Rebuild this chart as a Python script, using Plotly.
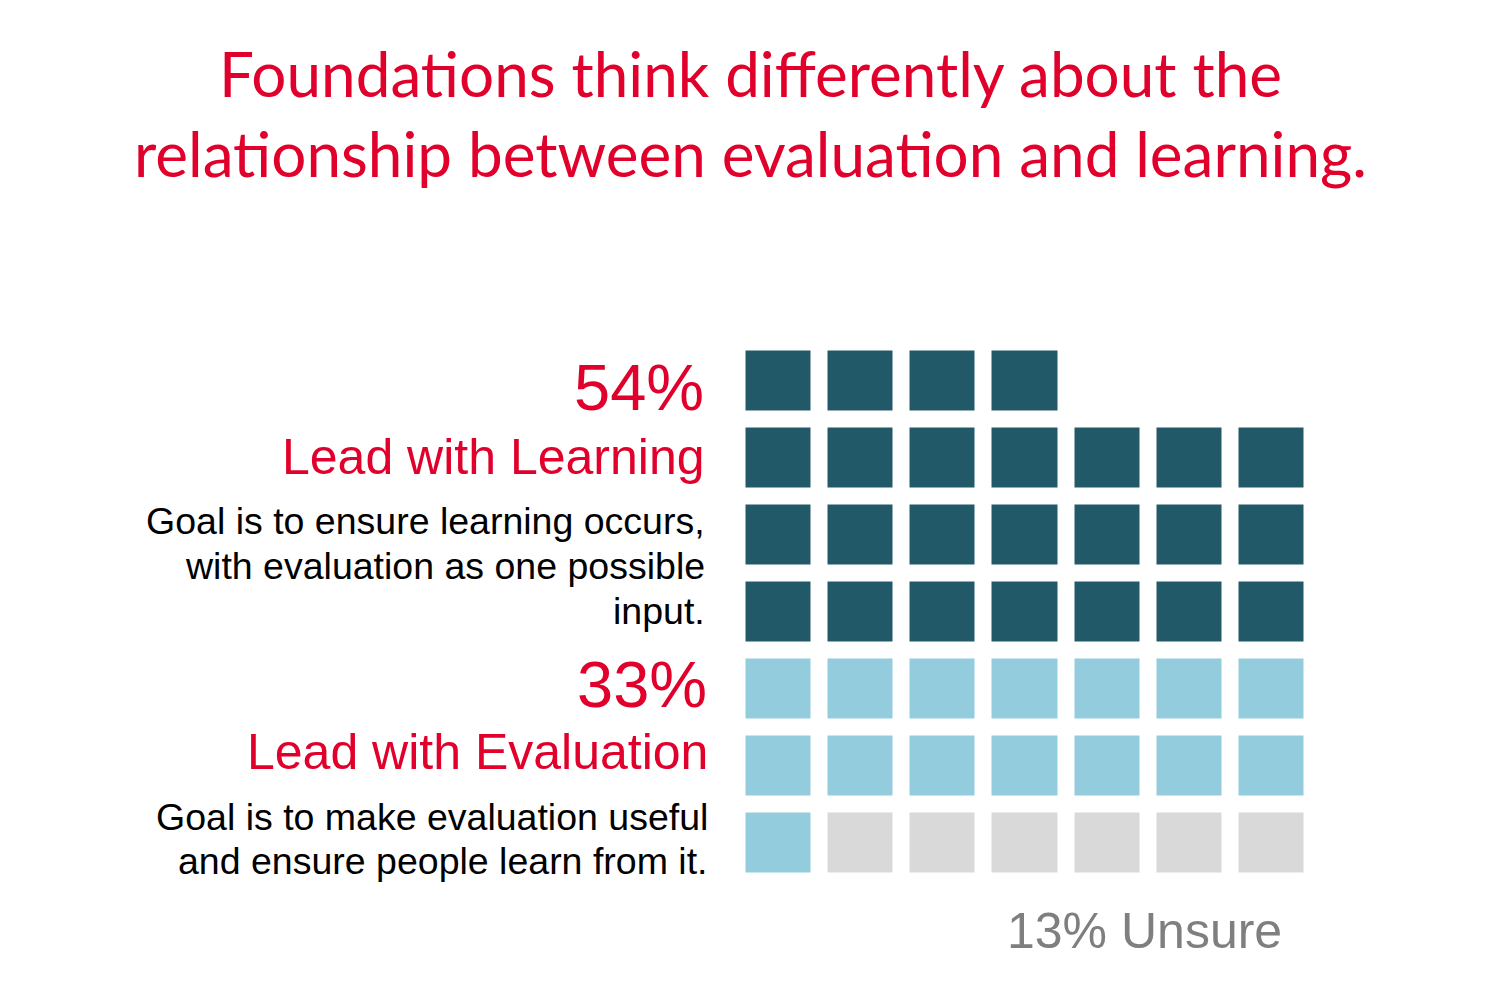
import plotly.graph_objects as go

# page body has an 8px margin, so the figure is shrunk by that much
OFF = 8
W, H = 1500 - OFF, 987 - OFF

RED = "#E0002B"
COLORS = ["#215968", "#93CDDD", "#D9D9D9"]

title_lines = [
    "Foundations think differently about the",
    "relationship between evaluation and learning.",
]
groups = ["Lead with Learning", "Lead with Evaluation", "Unsure"]
percents = [54, 33, 13]
squares = [25, 15, 6]  # squares drawn per group
n_cols = 7

descriptions = [
    ["Goal is to ensure learning occurs,", "with evaluation as one possible", "input."],
    ["Goal is to make evaluation useful", "and ensure people learn from it."],
]

# build waffle grid: top row is partial (left aligned), then full rows
total = sum(squares)
n_rows = -(-total // n_cols)
first_row = total - (n_rows - 1) * n_cols
seq = []
for i, n in enumerate(squares):
    seq += [i] * n
z = [[None] * n_cols for _ in range(n_rows)]
k = 0
for r in range(n_rows):
    cols = first_row if r == 0 else n_cols
    for c in range(cols):
        z[r][c] = seq[k]
        k += 1
hover = [[groups[v] if v is not None else "" for v in row] for row in z]

fig = go.Figure()
fig.add_heatmap(
    z=z,
    x=list(range(n_cols)),
    y=list(range(n_rows)),
    text=hover,
    hovertemplate="%{text}<extra></extra>",
    colorscale=[
        [0, COLORS[0]], [1 / 3, COLORS[0]],
        [1 / 3, COLORS[1]], [2 / 3, COLORS[1]],
        [2 / 3, COLORS[2]], [1, COLORS[2]],
    ],
    zmin=-0.5,
    zmax=2.5,
    showscale=False,
    xgap=17,
    ygap=17,
)


def py(px_y):
    return 1 - (px_y - OFF) / H


def px(px_x):
    return (px_x - OFF) / W


annotations = []
for i, line in enumerate(title_lines):
    annotations.append(dict(
        text=line, x=px(750), y=py(73 + i * 80), xanchor="center", yanchor="middle",
        font=dict(family="Lato", size=62, color=RED),
    ))

left_x = [707, 710]
pct_y = [387, 684]
name_y = [457, 752]
desc_y = [[521, 566, 611], [817, 861]]
for g in range(2):
    annotations.append(dict(
        text=f"{percents[g]}%", x=px(left_x[g] - 1), y=py(pct_y[g]),
        xanchor="right", yanchor="middle",
        font=dict(family="Liberation Sans", size=65, color=RED),
    ))
    annotations.append(dict(
        text=groups[g], x=px(left_x[g]), y=py(name_y[g]),
        xanchor="right", yanchor="middle",
        font=dict(family="Liberation Sans", size=50, color=RED),
    ))
    for line, yy in zip(descriptions[g], desc_y[g]):
        annotations.append(dict(
            text=line, x=px(left_x[g]), y=py(yy),
            xanchor="right", yanchor="middle",
            font=dict(family="Liberation Sans", size=37.5, color="#000000"),
        ))

annotations.append(dict(
    text=f"{percents[2]}% {groups[2]}", x=px(1144), y=py(931),
    xanchor="center", yanchor="middle",
    font=dict(family="Liberation Sans", size=50, color="#7F7F7F"),
))

for a in annotations:
    a.update(xref="paper", yref="paper", showarrow=False)

fig.update_layout(
    width=W,
    height=H,
    margin=dict(l=0, r=0, t=0, b=0),
    paper_bgcolor="white",
    plot_bgcolor="white",
    showlegend=False,
    annotations=annotations,
    xaxis=dict(domain=[px(737.5), px(1312.5)], range=[-0.5, n_cols - 0.5],
               visible=False, fixedrange=True),
    yaxis=dict(domain=[py(881.5), py(342.5)], range=[n_rows - 0.5, -0.5],
               visible=False, fixedrange=True),
)

fig.write_html("out.html")
